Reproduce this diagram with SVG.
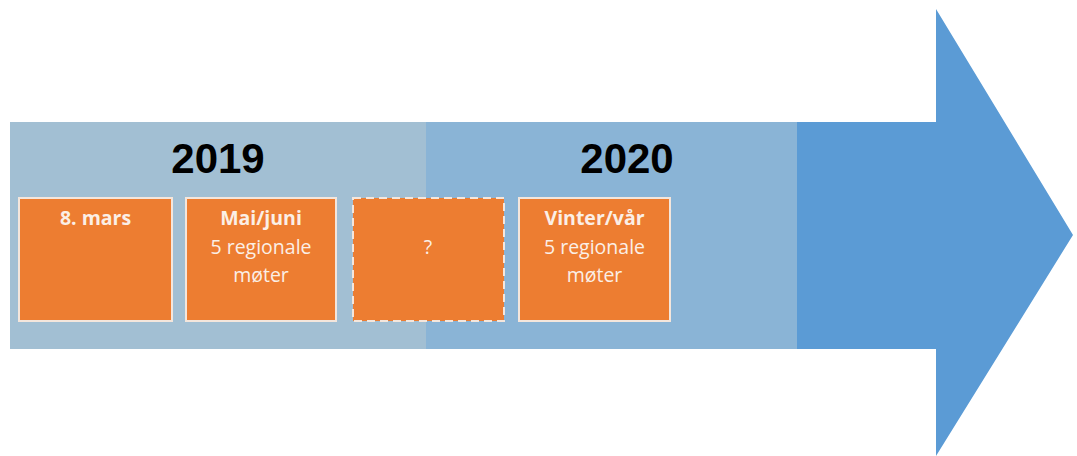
<svg xmlns="http://www.w3.org/2000/svg" width="1077" height="456" viewBox="0 0 1077 456">
<style>
.year{font-family:"Liberation Sans",Arial,sans-serif;font-weight:bold;font-size:42px;fill:#000;text-anchor:middle}
.box{fill:#ED7D31;stroke:#F4E6DC;stroke-width:2}
.dash{stroke-dasharray:8 5}
.t{font-family:"Open Sans",sans-serif;font-size:19.5px;fill:#FBEFE6;text-anchor:middle}
.b{font-weight:bold}
</style>
<rect width="1077" height="456" fill="#fff"/>
<g id="arrow">
<polygon points="10,122 936,122 936,9 1073,235 936,456 936,349 10,349" fill="#5B9BD5"/>
<rect x="10" y="122" width="416" height="227" fill="#A2BFD3"/>
<rect x="426" y="122" width="371" height="227" fill="#8AB4D6"/>
</g>
<g id="year2019"><text class="year" x="218" y="173">2019</text></g>
<g id="year2020"><text class="year" x="627" y="173">2020</text></g>
<g id="box1">
<rect class="box" x="19" y="198" width="153" height="123"/>
<text class="t b" x="95.5" y="225">8. mars</text>
</g>
<g id="box2">
<rect class="box" x="186" y="198" width="150" height="123"/>
<text class="t b" x="261" y="225">Mai/juni</text>
<text class="t" x="261" y="254">5 regionale</text>
<text class="t" x="261" y="282">møter</text>
</g>
<g id="box3">
<rect class="box dash" x="353" y="198" width="151" height="123"/>
<text class="t" x="428" y="254">?</text>
</g>
<g id="box4">
<rect class="box" x="519" y="198" width="151" height="123"/>
<text class="t b" x="594.5" y="225">Vinter/vår</text>
<text class="t" x="594.5" y="254">5 regionale</text>
<text class="t" x="594.5" y="282">møter</text>
</g>
<g id="connectors"></g>
</svg>
